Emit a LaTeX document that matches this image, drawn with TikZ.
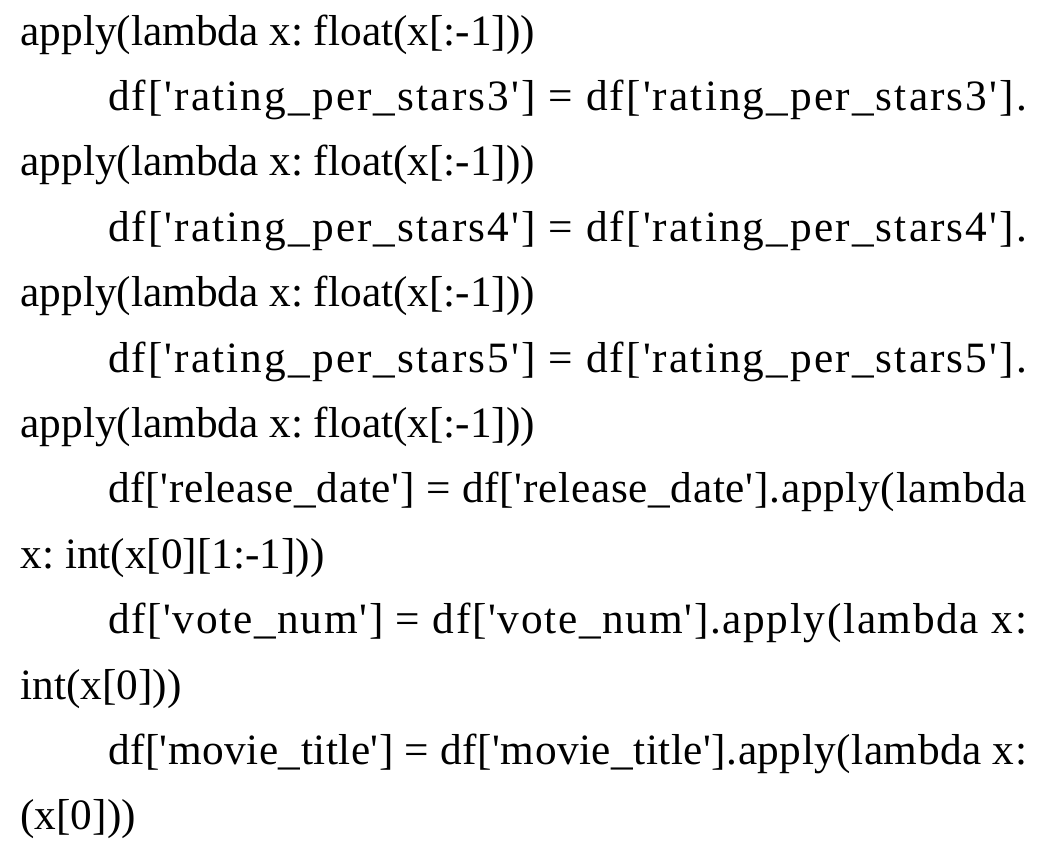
\documentclass[tikz,border=0pt]{standalone}
\usepackage{fontspec}
\setmainfont{Liberation Serif}[Ligatures=TeXOff]
\newcount\chcount
\chcount=33
\loop\XeTeXcharclass\chcount=1 \advance\chcount by 1 \ifnum\chcount<127\repeat
\XeTeXinterchartoks 1 1 = {\hskip 0pt plus 1fil\relax}
\newcommand\plainline[1]{\frenchspacing\detokenize{#1}}
\newcommand\justline[1]{\makebox[919pt][s]{\frenchspacing\XeTeXinterchartokenstate=1 \spaceskip=0.25em plus 1fil\relax\xspaceskip=\spaceskip\detokenize{#1}}}
\tikzset{codeline/.style={anchor=base west, inner sep=0pt, outer sep=0pt, font=\fontsize{43.3pt}{52pt}\selectfont, text=black}}
\begin{document}
\begin{tikzpicture}
\useasboundingbox[fill=white] (0pt,0pt) rectangle (1054pt,-857pt);
\node[codeline] (l1) at (20.5pt,-45pt) {\plainline{apply(lambda x: float(x[:-1]))}};
\node[codeline] (l2) at (108pt,-110.4pt) {\justline{df['rating_per_stars3'] = df['rating_per_stars3'].}};
\node[codeline] (l3) at (20.5pt,-175.8pt) {\plainline{apply(lambda x: float(x[:-1]))}};
\node[codeline] (l4) at (108pt,-241.2pt) {\justline{df['rating_per_stars4'] = df['rating_per_stars4'].}};
\node[codeline] (l5) at (20.5pt,-306.6pt) {\plainline{apply(lambda x: float(x[:-1]))}};
\node[codeline] (l6) at (108pt,-372pt) {\justline{df['rating_per_stars5'] = df['rating_per_stars5'].}};
\node[codeline] (l7) at (20.5pt,-437.4pt) {\plainline{apply(lambda x: float(x[:-1]))}};
\node[codeline] (l8) at (108pt,-502.8pt) {\justline{df['release_date'] = df['release_date'].apply(lambda}};
\node[codeline] (l9) at (20.5pt,-568.2pt) {\plainline{x: int(x[0][1:-1]))}};
\node[codeline] (l10) at (108pt,-633.6pt) {\justline{df['vote_num'] = df['vote_num'].apply(lambda x:}};
\node[codeline] (l11) at (20.5pt,-699pt) {\plainline{int(x[0]))}};
\node[codeline] (l12) at (108pt,-764.4pt) {\justline{df['movie_title'] = df['movie_title'].apply(lambda x:}};
\node[codeline] (l13) at (20.5pt,-829.8pt) {\plainline{(x[0]))}};
\end{tikzpicture}
\end{document}
